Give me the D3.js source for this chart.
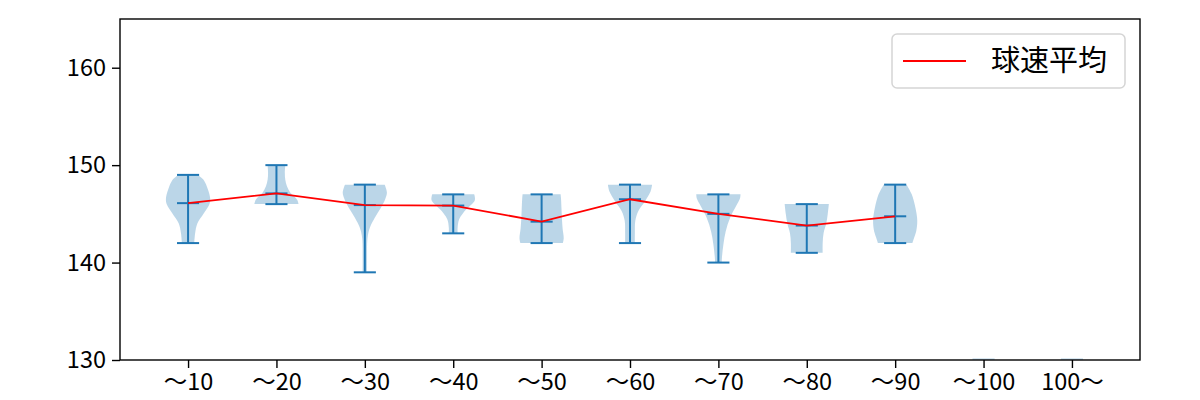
<!DOCTYPE html>
<html>
<head>
<meta charset="utf-8">
<script src="https://cdn.jsdelivr.net/npm/d3@7"></script>
<style>
  body { margin: 0; background: #fff; }
  svg text { font-family: "Noto Sans CJK JP", "Noto Sans", sans-serif; fill: #000; }
</style>
</head>
<body>
<div id="chart"></div>
<script>

// categories (x axis)
var categories = ["〜10", "〜20", "〜30", "〜40", "〜50", "〜60", "〜70", "〜80", "〜90", "〜100", "100〜"]

// per category stats, null = no pitches
var minValues  = [142, 146, 139, 143, 142, 142, 140, 141, 142, null, null]
var maxValues  = [149, 150, 148, 147, 147, 148, 147, 146, 148, null, null]
var meanValues = [146.1, 147.1, 145.9, 145.85, 144.2, 146.5, 145.0, 143.8, 144.75, null, null]

// violin outlines: [speed, relative half width]
var violinShapes = [
  [[142, 0.28], [143, 0.32], [144, 0.42], [145, 0.7], [146, 0.97], [146.6, 1.0], [147.5, 0.9], [148.5, 0.7], [149, 0.45]],
  [[146, 1.0], [146.4, 0.95], [146.8, 0.8], [147.2, 0.62], [147.8, 0.48], [148.5, 0.4], [149.2, 0.38], [150, 0.4]],
  [[139, 0.1], [140.5, 0.1], [142.5, 0.12], [143.6, 0.23], [144.6, 0.45], [145.6, 0.72], [146.5, 0.92], [147.2, 1.0], [148, 0.9]],
  [[143, 0.2], [143.6, 0.2], [144.4, 0.26], [145.1, 0.45], [145.8, 0.75], [146.4, 0.98], [147, 0.95]],
  [[142, 0.96], [142.5, 1.0], [143.5, 0.95], [144.5, 0.92], [145.5, 0.9], [146.5, 0.88], [147, 0.86]],
  [[142, 0.22], [143, 0.22], [144.3, 0.24], [145.3, 0.38], [146.3, 0.68], [147.3, 0.93], [148, 1.0]],
  [[140, 0.15], [140.5, 0.16], [141.9, 0.23], [143.2, 0.33], [144.6, 0.53], [146, 0.85], [146.6, 0.98], [147, 1.0]],
  [[141, 0.72], [142, 0.72], [143, 0.76], [144, 0.88], [145, 0.95], [146, 1.0]],
  [[142, 0.78], [142.5, 0.85], [143.2, 0.95], [144.3, 1.0], [145.6, 0.92], [147, 0.75], [148, 0.52]],
  null,
  null
]

var yTicks = [130, 140, 150, 160]
var legendLabel = "球速平均"

var config = {
  width: 1200,
  height: 400,
  margin: { left: 120, right: 60, top: 19, bottom: 40 },
  violinWidth: 0.5,   // in category units
  capWidth: 0.25,
  blue: "#1f77b4",
  tickFont: 23.5,
  legendFont: 29
}

var innerW = config.width - config.margin.left - config.margin.right
var innerH = config.height - config.margin.top - config.margin.bottom

var svg = d3.select("#chart")
  .append("svg")
    .attr("width", config.width)
    .attr("height", config.height)
  .append("g")
    .attr("transform", "translate(" + config.margin.left + "," + config.margin.top + ")")

// scales
var x = d3.scaleLinear().domain([0.23, categories.length + 0.77]).range([0, innerW])
var y = d3.scaleLinear().domain([130, 165]).range([innerH, 0])

var halfW = x(1 + config.violinWidth / 2) - x(1)
var capW = x(1 + config.capWidth / 2) - x(1)

// clip everything to the axes box
svg.append("clipPath").attr("id", "plot-clip")
  .append("rect").attr("width", innerW).attr("height", innerH)

var plot = svg.append("g").attr("clip-path", "url(#plot-clip)")

// violin bodies
categories.forEach(function(c, i){
  var cx = x(i + 1)
  var shape = violinShapes[i]
  if(!shape){
    // empty category: matplotlib leaves a flat stub at the bottom
    plot.append("line")
        .attr("x1", cx - capW).attr("x2", cx + capW)
        .attr("y1", y(130) - 0.8).attr("y2", y(130) - 0.8)
        .attr("stroke", config.blue)
        .attr("stroke-opacity", 0.3)
        .attr("stroke-width", 1.5)
    return
  }
  var area = d3.area()
      .y(function(d){ return y(d[0]) })
      .x0(function(d){ return cx - d[1] * halfW })
      .x1(function(d){ return cx + d[1] * halfW })
      .curve(d3.curveCatmullRom.alpha(0.5))
  plot.append("path")
      .attr("d", area(shape))
      .attr("fill", config.blue)
      .attr("fill-opacity", 0.3)
})

// extrema / mean bars
categories.forEach(function(c, i){
  if(minValues[i] === null) return
  var cx = x(i + 1)
  var g = plot.append("g")
      .attr("stroke", config.blue)
      .attr("stroke-width", 2)
  g.append("line")
      .attr("x1", cx).attr("x2", cx)
      .attr("y1", y(minValues[i])).attr("y2", y(maxValues[i]))
  ;[minValues[i], maxValues[i], meanValues[i]].forEach(function(v){
    g.append("line")
        .attr("x1", cx - capW).attr("x2", cx + capW)
        .attr("y1", y(v)).attr("y2", y(v))
  })
})

// mean line
var meanPts = meanValues
  .map(function(v, i){ return { pos: i + 1, v: v } })
  .filter(function(d){ return d.v !== null })

plot.append("path")
    .datum(meanPts)
    .attr("fill", "none")
    .attr("stroke", "red")
    .attr("stroke-width", 1.8)
    .attr("d", d3.line()
      .x(function(d){ return x(d.pos) })
      .y(function(d){ return y(d.v) }))

// axes
var yAxis = d3.axisLeft(y).tickValues(yTicks).tickSize(8).tickPadding(6)
var xAxis = d3.axisBottom(x)
    .tickValues(d3.range(1, categories.length + 1))
    .tickFormat(function(d){ return categories[d - 1] })
    .tickSize(8).tickPadding(5)

var gy = svg.append("g").attr("class", "y-axis").call(yAxis)
var gx = svg.append("g").attr("class", "x-axis")
    .attr("transform", "translate(0," + innerH + ")")
    .call(xAxis)

;[gx, gy].forEach(function(g){
  g.select(".domain").remove()
  g.selectAll(".tick line").attr("stroke", "#000").attr("stroke-width", 1.4)
  g.selectAll(".tick text")
      .attr("font-size", config.tickFont)
      .attr("fill", "#000")
})

// frame
svg.append("rect")
    .attr("width", innerW)
    .attr("height", innerH)
    .attr("fill", "none")
    .attr("stroke", "#000")
    .attr("stroke-width", 1.4)

// legend, upper right
var lgW = 233, lgH = 54, lgPad = 15
var legend = svg.append("g")
    .attr("transform", "translate(" + (innerW - lgPad - lgW) + "," + lgPad + ")")

legend.append("rect")
    .attr("width", lgW)
    .attr("height", lgH)
    .attr("rx", 5)
    .attr("fill", "#fff")
    .attr("fill-opacity", 0.8)
    .attr("stroke", "#d5d5d5")
    .attr("stroke-width", 1.5)

legend.append("line")
    .attr("x1", 11).attr("x2", 74)
    .attr("y1", lgH / 2).attr("y2", lgH / 2)
    .attr("stroke", "red")
    .attr("stroke-width", 1.8)

legend.append("text")
    .attr("x", 99)
    .attr("y", lgH / 2)
    .attr("dy", "0.36em")
    .attr("font-size", config.legendFont)
    .text(legendLabel)

</script>
</body>
</html>
